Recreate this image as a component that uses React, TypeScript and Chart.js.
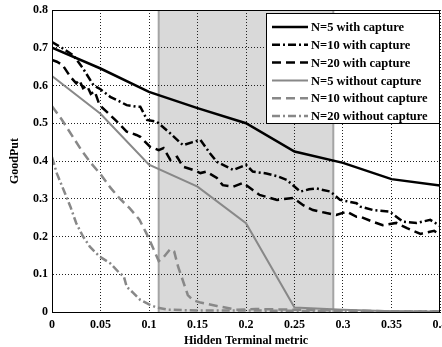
import React, { useEffect, useRef } from "react";
import { Chart, registerables } from "chart.js";

Chart.register(...registerables);

const seriesLabels = [
  "N=5 with capture",
  "N=10 with capture",
  "N=20 with capture",
  "N=5 without capture",
  "N=10 without capture",
  "N=20 without capture",
];

const n5CapX = [0, 0.05, 0.1, 0.15, 0.2, 0.25, 0.3, 0.35, 0.4];
const n5CapY = [0.7, 0.645, 0.583, 0.54, 0.5, 0.425, 0.395, 0.352, 0.335];

const n10CapX = [0, 0.01, 0.022, 0.032, 0.043, 0.05, 0.06, 0.068, 0.077, 0.087, 0.091, 0.098, 0.108, 0.122, 0.135, 0.145, 0.153, 0.163, 0.17, 0.18, 0.187, 0.2, 0.207, 0.221, 0.232, 0.242, 0.256, 0.265, 0.273, 0.287, 0.297, 0.314, 0.318, 0.331, 0.348, 0.362, 0.376, 0.39, 0.4];
const n10CapY = [0.715, 0.7, 0.68, 0.645, 0.6, 0.59, 0.57, 0.56, 0.548, 0.544, 0.544, 0.509, 0.504, 0.473, 0.442, 0.45, 0.456, 0.42, 0.398, 0.385, 0.376, 0.39, 0.372, 0.367, 0.36, 0.35, 0.319, 0.325, 0.327, 0.319, 0.297, 0.288, 0.279, 0.27, 0.266, 0.239, 0.236, 0.244, 0.228];

const n20CapX = [0, 0.005, 0.011, 0.019, 0.025, 0.028, 0.032, 0.036, 0.04, 0.044, 0.049, 0.06, 0.067, 0.077, 0.087, 0.091, 0.101, 0.11, 0.115, 0.122, 0.129, 0.135, 0.146, 0.153, 0.159, 0.17, 0.176, 0.187, 0.197, 0.207, 0.214, 0.232, 0.249, 0.259, 0.269, 0.283, 0.293, 0.304, 0.314, 0.318, 0.331, 0.341, 0.355, 0.366, 0.38, 0.394, 0.4];
const n20CapY = [0.668, 0.663, 0.654, 0.623, 0.606, 0.615, 0.593, 0.6, 0.578, 0.585, 0.548, 0.522, 0.504, 0.478, 0.469, 0.464, 0.438, 0.429, 0.434, 0.403, 0.411, 0.385, 0.376, 0.368, 0.372, 0.355, 0.336, 0.332, 0.342, 0.323, 0.31, 0.297, 0.302, 0.283, 0.27, 0.262, 0.257, 0.266, 0.252, 0.252, 0.239, 0.23, 0.236, 0.222, 0.207, 0.215, 0.205];

const n5NoX = [0, 0.05, 0.1, 0.15, 0.2, 0.25, 0.3, 0.35, 0.4];
const n5NoY = [0.625, 0.525, 0.39, 0.332, 0.235, 0.012, 0.006, 0.002, 0.001];

const n10NoX = [0, 0.01, 0.02, 0.03, 0.04, 0.05, 0.06, 0.07, 0.08, 0.09, 0.098, 0.105, 0.11, 0.115, 0.122, 0.126, 0.13, 0.134, 0.14, 0.145, 0.153, 0.17, 0.19, 0.21, 0.25, 0.3, 0.35, 0.4];
const n10NoY = [0.545, 0.51, 0.47, 0.43, 0.395, 0.365, 0.33, 0.3, 0.275, 0.245, 0.205, 0.165, 0.135, 0.145, 0.167, 0.16, 0.12, 0.09, 0.045, 0.032, 0.025, 0.016, 0.006, 0.008, 0.006, 0.004, 0.002, 0.001];

const n20NoX = [0, 0.005, 0.012, 0.019, 0.025, 0.032, 0.039, 0.049, 0.06, 0.07, 0.074, 0.077, 0.084, 0.091, 0.101, 0.108, 0.12, 0.15, 0.2, 0.25, 0.3, 0.4];
const n20NoY = [0.41, 0.367, 0.323, 0.279, 0.235, 0.2, 0.173, 0.147, 0.129, 0.102, 0.095, 0.067, 0.05, 0.032, 0.019, 0.012, 0.006, 0.004, 0.004, 0.003, 0.002, 0.001];

const shadeRange = [0.11, 0.29];

const FONT = '"Liberation Serif", "Times New Roman", serif';
const GRAY = "#888888";

const pts = (xs: number[], ys: number[]) => xs.map((x, i) => ({ x, y: ys[i] }));

const shadePlugin = {
  id: "shade",
  beforeDraw(chart: any) {
    const { ctx, chartArea: a, scales } = chart;
    const x1 = scales.x.getPixelForValue(shadeRange[0]);
    const x2 = scales.x.getPixelForValue(shadeRange[1]);
    ctx.save();
    ctx.fillStyle = "#d9d9d9";
    ctx.fillRect(x1, a.top, x2 - x1, a.bottom - a.top);
    ctx.strokeStyle = "#a4a4a4";
    ctx.lineWidth = 2;
    ctx.beginPath();
    ctx.moveTo(x1, a.top);
    ctx.lineTo(x1, a.bottom);
    ctx.moveTo(x2, a.top);
    ctx.lineTo(x2, a.bottom);
    ctx.stroke();
    ctx.restore();
  },
};

const framePlugin = {
  id: "frame",
  afterDatasetsDraw(chart: any) {
    const { ctx, chartArea: a } = chart;
    ctx.save();
    ctx.strokeStyle = "#000";
    ctx.lineWidth = 1;
    ctx.strokeRect(Math.round(a.left) + 0.5, Math.round(a.top) + 0.5, Math.round(a.right - a.left) - 1, Math.round(a.bottom - a.top));
    ctx.restore();
  },
};

const legendPlugin = {
  id: "boxLegend",
  afterDraw(chart: any) {
    const { ctx, chartArea: a } = chart;
    const w = 174;
    const h = 110;
    const left = Math.round(a.right) - w;
    const top = Math.round(a.top) + 3;
    ctx.save();
    ctx.fillStyle = "#fff";
    ctx.fillRect(left, top, w, h);
    ctx.strokeStyle = "#000";
    ctx.lineWidth = 1;
    ctx.strokeRect(left + 0.5, top + 0.5, w - 1, h);
    chart.data.datasets.forEach((ds: any, i: number) => {
      const y = top + 14 + i * 17.8;
      ctx.save();
      ctx.strokeStyle = ds.borderColor;
      ctx.lineWidth = ds.borderWidth;
      ctx.setLineDash(ds.borderDash || []);
      ctx.beginPath();
      ctx.moveTo(left + 6, y);
      ctx.lineTo(left + 42, y);
      ctx.stroke();
      ctx.restore();
      ctx.fillStyle = "#000";
      ctx.font = `bold 12.5px ${FONT}`;
      ctx.textBaseline = "middle";
      ctx.textAlign = "left";
      ctx.fillText(ds.label, left + 45, y + 1);
    });
    ctx.restore();
  },
};

export default function App() {
  const ref = useRef<HTMLCanvasElement | null>(null);
  useEffect(() => {
    if (!ref.current) return;
    const dashDot = [8, 3, 2, 3];
    const dash = [9, 5];
    const chart = new Chart(ref.current, {
      type: "line",
      data: {
        datasets: [
          { label: seriesLabels[0], data: pts(n5CapX, n5CapY), borderColor: "#000", borderWidth: 2.5, borderDash: [] },
          { label: seriesLabels[1], data: pts(n10CapX, n10CapY), borderColor: "#000", borderWidth: 2.5, borderDash: dashDot },
          { label: seriesLabels[2], data: pts(n20CapX, n20CapY), borderColor: "#000", borderWidth: 2.5, borderDash: dash },
          { label: seriesLabels[3], data: pts(n5NoX, n5NoY), borderColor: GRAY, borderWidth: 2, borderDash: [] },
          { label: seriesLabels[4], data: pts(n10NoX, n10NoY), borderColor: GRAY, borderWidth: 2.5, borderDash: dash },
          { label: seriesLabels[5], data: pts(n20NoX, n20NoY), borderColor: GRAY, borderWidth: 2.5, borderDash: dashDot },
        ].map((d) => ({ ...d, pointRadius: 0, tension: 0, fill: false })) as any,
      },
      options: {
        animation: false,
        responsive: false,
        layout: { padding: { left: 0, right: 2, top: 10, bottom: 0 } },
        plugins: { legend: { display: false }, tooltip: { enabled: false } },
        scales: {
          x: {
            type: "linear",
            min: 0,
            max: 0.4,
            grid: { color: "#222", lineWidth: 1, drawTicks: false },
            border: { display: true, color: "#000", width: 1, dash: [1, 2] },
            ticks: {
              stepSize: 0.05,
              padding: 6,
              color: "#000",
              font: { family: FONT, size: 12, weight: "bold" },
              callback: (v: any) => String(+Number(v).toFixed(2)),
            },
            title: {
              display: true,
              text: "Hidden Terminal metric",
              color: "#000",
              font: { family: FONT, size: 12, weight: "bold", lineHeight: 1 },
              padding: 0,
            },
            afterFit: (s: any) => {
              s.height = 35;
              s.paddingLeft = 0;
              s.paddingRight = 0;
            },
          },
          y: {
            type: "linear",
            min: 0,
            max: 0.8,
            grid: { color: "#222", lineWidth: 1, drawTicks: false },
            border: { display: true, color: "#000", width: 1, dash: [1, 2] },
            ticks: {
              stepSize: 0.1,
              padding: 4,
              color: "#000",
              font: { family: FONT, size: 12, weight: "bold" },
              callback: (v: any) => String(+Number(v).toFixed(1)),
            },
            title: {
              display: true,
              text: "GoodPut",
              color: "#000",
              font: { family: FONT, size: 12, weight: "bold", lineHeight: 1 },
              padding: { top: 9, bottom: 0 },
            },
            afterFit: (s: any) => {
              s.width = 52;
              s.paddingTop = 0;
              s.paddingBottom = 0;
            },
          },
        },
      },
      plugins: [shadePlugin, framePlugin, legendPlugin],
    });
    return () => chart.destroy();
  }, []);
  return (
    <div style={{ position: "fixed", left: 0, top: 0, width: 442, height: 347, overflow: "hidden", background: "#fff" }}>
      <canvas ref={ref} width={442} height={347} style={{ display: "block" }} />
    </div>
  );
}
